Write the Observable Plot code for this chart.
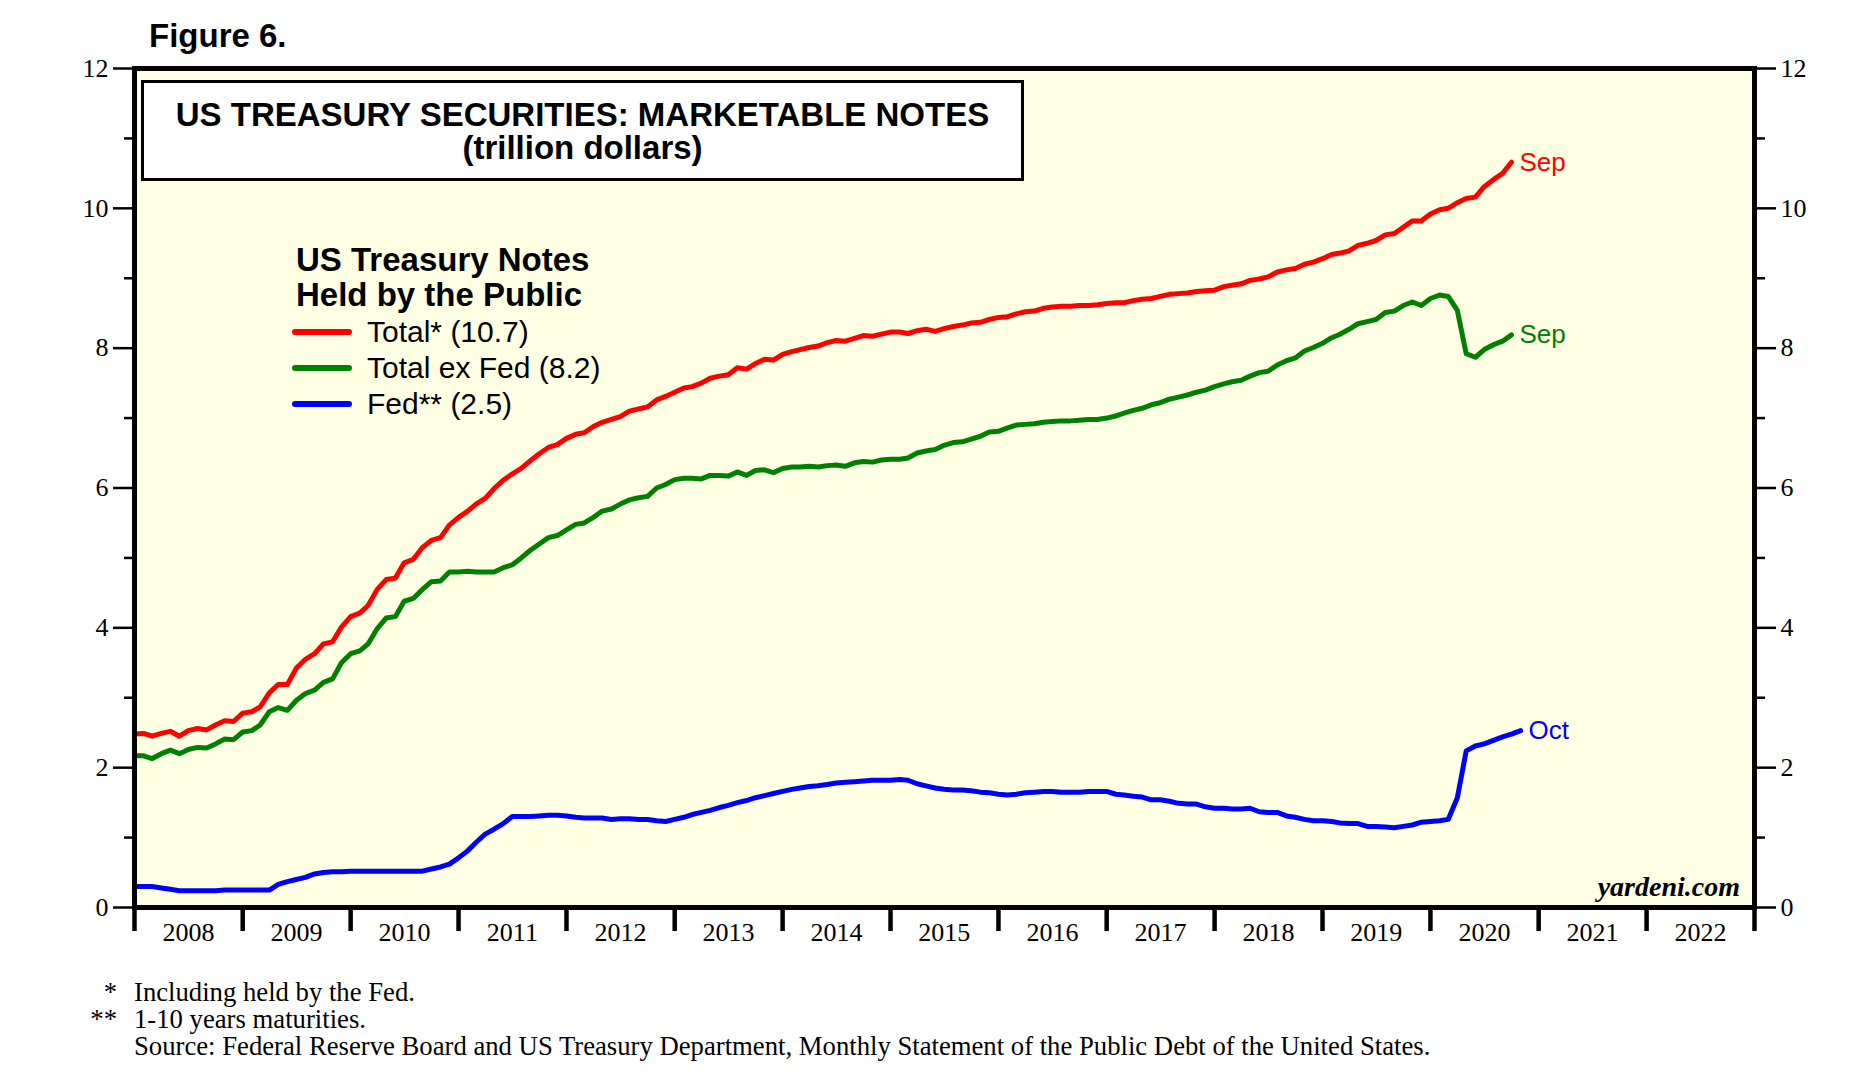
<!DOCTYPE html>
<html>
<head>
<meta charset="utf-8">
<script src="https://cdn.jsdelivr.net/npm/d3@7"></script>
<script src="https://cdn.jsdelivr.net/npm/@observablehq/plot@0.6"></script>
<style>
  body { margin: 0; background: #ffffff; }
  #wrap { position: relative; width: 1849px; height: 1091px; overflow: hidden; background: #fff; }
  #wrap svg { position: absolute; left: 0; top: 0; }
  .abs { position: absolute; white-space: nowrap; }
  .sans { font-family: "Liberation Sans", Arial, sans-serif; }
  .serif { font-family: "Liberation Serif", "Times New Roman", serif; }
</style>
</head>
<body>
<div id="wrap"></div>
<script>
// ---------------- data ----------------
const startMonth = "2007-12"; // first value = Dec 2007, plotted at month end
const total = [
  2.48,2.49,2.45,2.49,2.52,2.45,2.53,2.56,2.54,2.61,2.67,2.66,
  2.78,2.80,2.87,3.07,3.19,3.19,3.42,3.55,3.63,3.77,3.80,4.01,
  4.16,4.21,4.32,4.55,4.69,4.71,4.93,4.98,5.15,5.25,5.29,5.47,
  5.58,5.67,5.77,5.85,5.99,6.11,6.20,6.28,6.39,6.49,6.58,6.62,
  6.71,6.77,6.79,6.88,6.94,6.98,7.02,7.10,7.13,7.16,7.26,7.31,
  7.37,7.43,7.45,7.50,7.57,7.60,7.62,7.72,7.70,7.78,7.84,7.83,
  7.91,7.95,7.98,8.01,8.03,8.08,8.11,8.10,8.14,8.18,8.17,8.20,
  8.23,8.23,8.21,8.25,8.27,8.24,8.28,8.31,8.33,8.36,8.37,8.41,
  8.44,8.45,8.49,8.52,8.53,8.57,8.59,8.60,8.60,8.61,8.61,8.62,
  8.64,8.65,8.65,8.68,8.70,8.71,8.74,8.77,8.78,8.79,8.81,8.82,
  8.83,8.88,8.90,8.92,8.97,8.99,9.02,9.09,9.12,9.14,9.20,9.23,
  9.28,9.34,9.36,9.39,9.47,9.50,9.54,9.62,9.64,9.73,9.82,9.82,
  9.92,9.98,10.00,10.08,10.14,10.16,10.31,10.41,10.50,10.66
];
const exFed = [
  2.17,2.17,2.13,2.20,2.25,2.20,2.26,2.29,2.28,2.34,2.41,2.40,
  2.51,2.53,2.61,2.80,2.86,2.82,2.96,3.06,3.11,3.22,3.27,3.50,
  3.63,3.67,3.77,3.99,4.14,4.16,4.38,4.42,4.55,4.66,4.67,4.80,
  4.80,4.81,4.80,4.80,4.80,4.86,4.90,5.00,5.11,5.20,5.29,5.32,
  5.40,5.48,5.50,5.58,5.67,5.70,5.77,5.83,5.86,5.88,6.00,6.05,
  6.12,6.14,6.14,6.13,6.18,6.18,6.17,6.23,6.18,6.25,6.26,6.22,
  6.28,6.30,6.30,6.31,6.30,6.32,6.33,6.31,6.36,6.38,6.37,6.40,
  6.41,6.41,6.43,6.50,6.53,6.55,6.61,6.65,6.66,6.70,6.74,6.80,
  6.81,6.86,6.90,6.91,6.92,6.94,6.95,6.96,6.96,6.97,6.98,6.98,
  7.00,7.03,7.07,7.11,7.14,7.19,7.22,7.27,7.30,7.33,7.37,7.40,
  7.45,7.49,7.52,7.54,7.60,7.65,7.67,7.76,7.82,7.86,7.96,8.01,
  8.07,8.15,8.20,8.27,8.35,8.38,8.41,8.51,8.53,8.61,8.66,8.61,
  8.71,8.76,8.74,8.54,7.92,7.87,7.98,8.05,8.10,8.19
];
const fed = [
  0.30,0.30,0.30,0.28,0.26,0.24,0.24,0.24,0.24,0.24,0.25,0.25,
  0.25,0.25,0.25,0.25,0.33,0.37,0.40,0.43,0.48,0.50,0.51,0.51,
  0.52,0.52,0.52,0.52,0.52,0.52,0.52,0.52,0.52,0.55,0.58,0.62,
  0.71,0.81,0.93,1.05,1.12,1.20,1.30,1.30,1.30,1.31,1.32,1.32,
  1.31,1.29,1.28,1.28,1.28,1.26,1.27,1.27,1.26,1.26,1.24,1.23,
  1.26,1.29,1.33,1.36,1.39,1.43,1.46,1.50,1.53,1.57,1.60,1.63,
  1.66,1.69,1.71,1.73,1.74,1.76,1.78,1.79,1.80,1.81,1.82,1.82,
  1.82,1.83,1.82,1.77,1.74,1.71,1.69,1.68,1.68,1.67,1.65,1.64,
  1.62,1.61,1.62,1.64,1.65,1.66,1.66,1.65,1.65,1.65,1.66,1.66,
  1.66,1.62,1.61,1.59,1.58,1.54,1.54,1.52,1.49,1.48,1.48,1.44,
  1.42,1.42,1.41,1.41,1.42,1.37,1.36,1.36,1.31,1.29,1.26,1.24,
  1.24,1.23,1.21,1.20,1.20,1.16,1.16,1.15,1.14,1.16,1.18,1.22,
  1.23,1.24,1.26,1.57,2.24,2.31,2.34,2.39,2.44,2.48,2.53
];
const seriesNames = ["Total* (10.7)", "Total ex Fed (8.2)", "Fed** (2.5)"];
const seriesColors = ["#ff0000", "#008000", "#0000ff"];
const endLabels = ["Sep", "Sep", "Oct"];
const years = [2008,2009,2010,2011,2012,2013,2014,2015,2016,2017,2018,2019,2020,2021,2022];
const yTicks = [0, 2, 4, 6, 8, 10, 12];
const yMinor = [1, 3, 5, 7, 9, 11];
const chartTitle = ["US TREASURY SECURITIES: MARKETABLE NOTES", "(trillion dollars)"];
const legendTitle = ["US Treasury Notes", "Held by the Public"];
const footnotes = [
  ["*", "Including held by the Fed."],
  ["**", "1-10 years maturities."],
  ["", "Source: Federal Reserve Board and US Treasury Department, Monthly Statement of the Public Debt of the United States."]
];

// ---------------- build rows ----------------
const [sy, sm] = startMonth.split("-").map(Number);
const start = new Date(Date.UTC(sy, sm - 1, 1));
const allSeries = [total, exFed, fed];
const rows = [];
const ends = [];
allSeries.forEach((vals, s) => {
  vals.forEach((v, i) => rows.push({date: d3.utcMonth.offset(start, i + 1), value: v, series: s, color: seriesColors[s]}));
  const last = vals.length - 1;
  ends.push({date: d3.utcMonth.offset(start, last + 1), value: vals[last], color: seriesColors[s], label: endLabels[s]});
});
const yearStarts = years.map(y => new Date(Date.UTC(y, 0, 1))).concat([new Date(Date.UTC(years[years.length - 1] + 1, 0, 1))]);
const yearMids = years.map(y => new Date(Date.UTC(y, 6, 2)));

// ---------------- chart ----------------
const W = 1849, H = 1091;
const serif = "Liberation Serif, Times New Roman, serif";
const sans = "Liberation Sans, Arial, sans-serif";
const chart = Plot.plot({
  width: W, height: H,
  marginTop: 68, marginRight: 95, marginBottom: 184, marginLeft: 134,
  style: {background: "transparent", overflow: "visible"},
  x: {type: "utc", domain: [yearStarts[0], yearStarts[yearStarts.length - 1]], label: null},
  y: {domain: [0, 12], label: null},
  color: {type: "identity"},
  marks: [
    Plot.frame({fill: "#ffffe3", stroke: null}),
    Plot.axisY(yTicks, {anchor: "left", tickSize: 21, tickPadding: 5, strokeWidth: 2.5, fontSize: 26, fontFamily: serif, tickFormat: "d", label: null}),
    Plot.axisY(yMinor, {anchor: "left", tickSize: 10, text: null, strokeWidth: 2.5, label: null}),
    Plot.axisY(yTicks, {anchor: "right", tickSize: 21, tickPadding: 5, strokeWidth: 2.5, fontSize: 26, fontFamily: serif, tickFormat: "d", label: null}),
    Plot.axisY(yMinor, {anchor: "right", tickSize: 10, text: null, strokeWidth: 2.5, label: null}),
    Plot.axisX(yearStarts, {anchor: "bottom", tickSize: 24, text: null, strokeWidth: 4.5, label: null}),
    Plot.axisX(yearMids, {anchor: "bottom", tickSize: 0, tickPadding: 15, tickFormat: "%Y", fontSize: 26, fontFamily: serif, label: null}),
    Plot.line(rows, {x: "date", y: "value", z: "series", stroke: "color", strokeWidth: 5, strokeLinejoin: "round"}),
    Plot.text(ends, {x: "date", y: "value", text: "label", fill: "color", dx: 8, textAnchor: "start", lineAnchor: "middle", fontSize: 26, fontFamily: sans}),
    Plot.frame({stroke: "#000", strokeWidth: 5})
  ]
});
const wrap = document.getElementById("wrap");
wrap.appendChild(chart);

// ---------------- overlays ----------------
function addDiv(html, css, cls) {
  const d = document.createElement("div");
  d.className = "abs " + (cls || "");
  d.textContent = html;
  Object.assign(d.style, css);
  wrap.appendChild(d);
  return d;
}
const SANS_K = 0.8465, SERIF_K = 0.8375;
function sansAt(text, x, baseline, size, extra) {
  return addDiv(text, Object.assign({left: x + "px", top: (baseline - SANS_K * size) + "px", fontSize: size + "px", lineHeight: size + "px"}, extra || {}), "sans");
}
function serifAt(text, x, baseline, size, extra) {
  return addDiv(text, Object.assign({left: x + "px", top: (baseline - SERIF_K * size) + "px", fontSize: size + "px", lineHeight: size + "px"}, extra || {}), "serif");
}

sansAt("Figure 6.", 149, 47, 33, {fontWeight: "bold"});

// title box
const box = document.createElement("div");
box.className = "abs";
Object.assign(box.style, {left: "141px", top: "80px", width: "877px", height: "95px", border: "3px solid #000", background: "#ffffff"});
wrap.appendChild(box);
chartTitle.forEach((t, i) => {
  sansAt(t, 141, 125.5 + i * 33.5, 33, {fontWeight: "bold", width: "883px", textAlign: "center"});
});

// legend
legendTitle.forEach((t, i) => sansAt(t, 296, 271 + i * 35, 33, {fontWeight: "bold"}));
seriesNames.forEach((name, i) => {
  const cy = 332 + i * 36;
  const ln = document.createElement("div");
  ln.className = "abs";
  Object.assign(ln.style, {left: "292px", top: (cy - 3) + "px", width: "60px", height: "6px", borderRadius: "3px", background: seriesColors[i]});
  wrap.appendChild(ln);
  sansAt(name, 367, cy + 10.5, 30);
});

// watermark
serifAt("yardeni.com", 1440, 896, 28, {fontWeight: "bold", fontStyle: "italic", width: "300px", textAlign: "right"});

// footnotes
footnotes.forEach((f, i) => {
  const base = 1001 + i * 27;
  if (f[0]) serifAt(f[0], 57, base, 26.7, {width: "60px", textAlign: "right"});
  serifAt(f[1], 134, base, 26.7);
});
</script>
</body>
</html>
